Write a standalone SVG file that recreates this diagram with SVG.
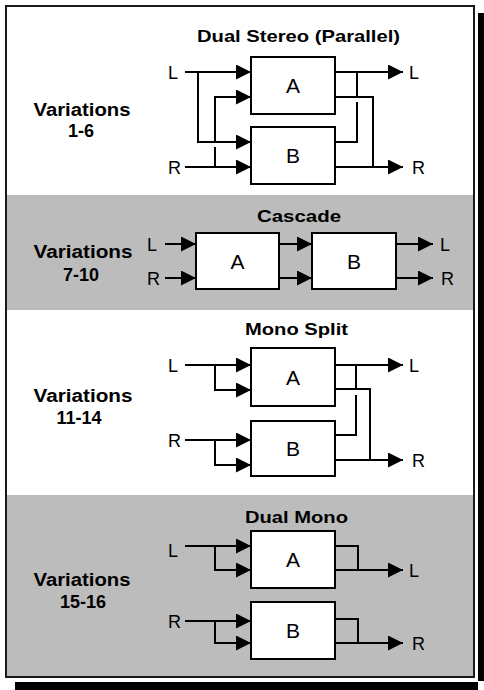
<svg xmlns="http://www.w3.org/2000/svg" width="484" height="690" viewBox="0 0 484 690">
<defs>
<style>
.bg{fill:#ffffff}
.gray{fill:#bcbcbc}
.box{fill:#ffffff;stroke:#000;stroke-width:2}
.ln{fill:none;stroke:#000;stroke-width:2}
.ar{marker-end:url(#arr)}
.lbl{font-family:"Liberation Sans",Arial,sans-serif;font-weight:bold;font-size:18px;fill:#000;text-anchor:middle}
.ttl{font-family:"Liberation Sans",Arial,sans-serif;font-weight:bold;font-size:17px;fill:#000;text-anchor:middle}
.io{font-family:"Liberation Sans",Arial,sans-serif;font-size:18px;fill:#000}
.bx{font-family:"Liberation Sans",Arial,sans-serif;font-size:21px;fill:#000;text-anchor:middle}
</style>
<marker id="arr" markerUnits="userSpaceOnUse" markerWidth="16" markerHeight="16" refX="15" refY="7.5" orient="auto">
<path d="M0,0 L15,7.5 L0,15 Z" fill="#000"/>
</marker>
</defs>

<g id="frame">
<rect x="0" y="0" width="484" height="690" fill="#ffffff"/>
<rect class="gray" x="7" y="195" width="467" height="115"/>
<rect class="gray" x="7" y="495" width="467" height="182"/>
<rect x="6" y="6" width="468" height="671" fill="none" stroke="#1a1a1a" stroke-width="2"/>
<rect x="478" y="13" width="6" height="668" fill="#000"/>
<rect x="15" y="682" width="463" height="8" fill="#000"/>
</g>

<g id="labels">
<text class="ttl" x="298.5" y="42" textLength="203" lengthAdjust="spacingAndGlyphs">Dual Stereo (Parallel)</text>
<text class="lbl" x="82" y="116" textLength="97" lengthAdjust="spacingAndGlyphs">Variations</text>
<text class="lbl" x="81" y="137">1-6</text>
<text class="ttl" x="299" y="222" textLength="84" lengthAdjust="spacingAndGlyphs">Cascade</text>
<text class="lbl" x="83" y="258" textLength="99" lengthAdjust="spacingAndGlyphs">Variations</text>
<text class="lbl" x="81" y="281">7-10</text>
<text class="ttl" x="296.5" y="335" textLength="103" lengthAdjust="spacingAndGlyphs">Mono Split</text>
<text class="lbl" x="83" y="402" textLength="99" lengthAdjust="spacingAndGlyphs">Variations</text>
<text class="lbl" x="79" y="424">11-14</text>
<text class="ttl" x="296.5" y="523" textLength="103" lengthAdjust="spacingAndGlyphs">Dual Mono</text>
<text class="lbl" x="82" y="586" textLength="97" lengthAdjust="spacingAndGlyphs">Variations</text>
<text class="lbl" x="83" y="608">15-16</text>
</g>

<g id="io-labels">
<text class="io" x="168" y="78.5">L</text>
<text class="io" x="168" y="173.5">R</text>
<text class="io" x="409" y="78.5">L</text>
<text class="io" x="412" y="173.5">R</text>
<text class="io" x="147" y="250.5">L</text>
<text class="io" x="147" y="284.5">R</text>
<text class="io" x="440" y="250.5">L</text>
<text class="io" x="441" y="284.5">R</text>
<text class="io" x="168" y="371.5">L</text>
<text class="io" x="168" y="446.5">R</text>
<text class="io" x="409" y="371.5">L</text>
<text class="io" x="412" y="466.5">R</text>
<text class="io" x="168" y="556.5">L</text>
<text class="io" x="168" y="627.5">R</text>
<text class="io" x="409" y="577">L</text>
<text class="io" x="412" y="650">R</text>
</g>

<g id="node-A1"><rect class="box" x="251" y="57" width="84" height="57"/><text class="bx" x="293" y="93">A</text></g>
<g id="node-B1"><rect class="box" x="251" y="127" width="84" height="57"/><text class="bx" x="293" y="163">B</text></g>
<g id="node-A2"><rect class="box" x="196" y="233" width="83" height="56"/><text class="bx" x="237.5" y="268.5">A</text></g>
<g id="node-B2"><rect class="box" x="312" y="233" width="84" height="56"/><text class="bx" x="354" y="268.5">B</text></g>
<g id="node-A3"><rect class="box" x="251" y="348" width="84" height="58"/><text class="bx" x="293" y="384.5">A</text></g>
<g id="node-B3"><rect class="box" x="251" y="421" width="84" height="55"/><text class="bx" x="293" y="456">B</text></g>
<g id="node-A4"><rect class="box" x="251" y="531" width="84" height="57"/><text class="bx" x="293" y="567">A</text></g>
<g id="node-B4"><rect class="box" x="251" y="602" width="84" height="57"/><text class="bx" x="293" y="638">B</text></g>

<g id="connectors">
<!-- Dual Stereo inputs -->
<path class="ln ar" d="M185,72 H251"/>
<path class="ln ar" d="M198,72 V142 H251"/>
<path class="ln ar" d="M185,167 H251"/>
<path class="ln ar" d="M215,143 V97 H251"/>
<path class="ln" d="M215,147 V167"/>
<!-- Dual Stereo outputs -->
<path class="ln ar" d="M335,72 H403"/>
<path class="ln" d="M357,72 V97"/>
<path class="ln" d="M357,102 V142 H335"/>
<path class="ln" d="M335,97 H373 V167"/>
<path class="ln ar" d="M335,167 H403"/>
<!-- Cascade -->
<path class="ln ar" d="M165,244 H196"/>
<path class="ln ar" d="M165,278 H196"/>
<path class="ln ar" d="M279,244 H312"/>
<path class="ln ar" d="M279,278 H312"/>
<path class="ln ar" d="M396,244 H433"/>
<path class="ln ar" d="M396,278 H433"/>
<!-- Mono Split -->
<path class="ln ar" d="M185,365 H251"/>
<path class="ln ar" d="M215,365 V390 H251"/>
<path class="ln ar" d="M185,440 H251"/>
<path class="ln ar" d="M215,440 V465 H251"/>
<path class="ln ar" d="M335,365 H403"/>
<path class="ln" d="M356,365 V389"/>
<path class="ln" d="M356,395 V435 H335"/>
<path class="ln" d="M335,389 H370 V460"/>
<path class="ln ar" d="M335,460 H403"/>
<!-- Dual Mono -->
<path class="ln ar" d="M185,546 H251"/>
<path class="ln ar" d="M215,546 V570 H251"/>
<path class="ln" d="M335,546 H358 V570"/>
<path class="ln ar" d="M335,570 H403"/>
<path class="ln ar" d="M185,621 H251"/>
<path class="ln ar" d="M215,621 V643 H251"/>
<path class="ln" d="M335,619 H358 V643"/>
<path class="ln ar" d="M335,643 H403"/>
</g>
</svg>
